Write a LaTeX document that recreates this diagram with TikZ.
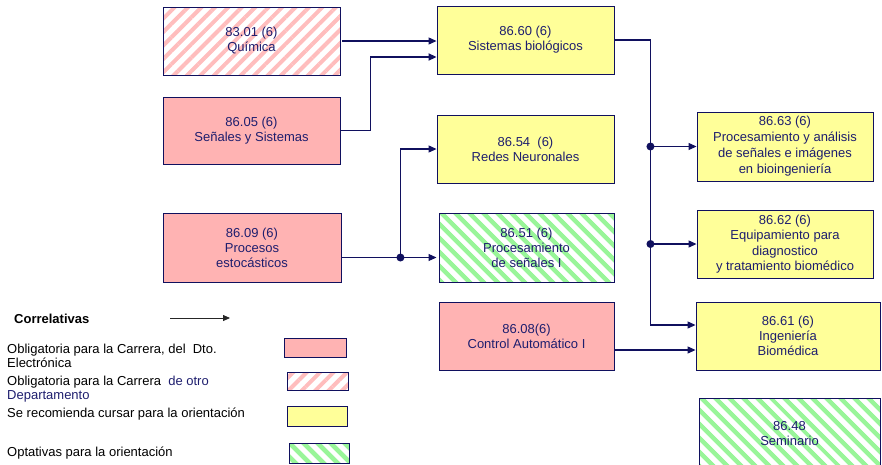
\documentclass[tikz,border=0pt]{standalone}
\usepackage{fontspec}
\setmainfont{Liberation Sans}
\usepackage{tikz}
\usetikzlibrary{arrows.meta, positioning, calc, patterns.meta}
\definecolor{navyline}{HTML}{10105E}
\definecolor{navytext}{HTML}{1E1E6E}
\definecolor{obligpink}{HTML}{FFB3B3}
\definecolor{hatchpink}{HTML}{FFBDBD}
\definecolor{orientyellow}{HTML}{FFFF99}
\definecolor{hatchgreen}{HTML}{99F599}

\tikzset{
  curso/.style={rectangle, draw=navyline, line width=0.9pt, inner sep=2pt,
                minimum width=177pt, minimum height=68pt, align=center,
                text=navytext, font=\fontsize{13}{15}\selectfont},
  oblig/.style={curso, fill=obligpink},
  otrodto/.style={curso, pattern={Lines[angle=45,distance=9.5pt,line width=4pt]}, pattern color=hatchpink},
  orient/.style={curso, fill=orientyellow},
  optativa/.style={curso, pattern={Lines[angle=-45,distance=10.5pt,line width=5pt]}, pattern color=hatchgreen},
  correl/.style={navyline, line width=1.1pt, -{Triangle[length=8pt,width=7pt]}},
  nudo/.style={circle, fill=navyline, inner sep=0pt, minimum size=8pt},
  leyenda/.style={anchor=west, align=left, inner sep=0pt, font=\fontsize{13}{14}\selectfont}
}

\begin{document}
\begin{tikzpicture}[x=1pt, y=-1pt]
  \useasboundingbox (0,0) rectangle (882,464);

  % ===== First column =====
  \node[otrodto] (quim) at (251.5, 41) {83.01 (6)\\Química};
  \node[oblig, minimum height=67pt] (senales) at (251.5, 130.5) {86.05 (6)\\Señales y Sistemas};
  \node[oblig, minimum width=178pt, minimum height=69pt] (estoc) at (252, 247.5) {86.09 (6)\\Procesos\\estocásticos};

  % ===== Second column =====
  \node[orient] (sisbio) at (525.5, 40) {86.60 (6)\\Sistemas biológicos};
  \node[orient] (redes) at (525.5, 149) {86.54~ (6)\\Redes Neuronales};
  \node[optativa, minimum width=175pt, minimum height=69pt] (procsen) at (526.5, 247.5) {86.51 (6)\\Procesamiento\\de señales I};
  \node[oblig, minimum width=175pt] (control) at (526.5, 336) {86.08(6)\\Control Automático I};

  % ===== Third column =====
  \node[orient, minimum width=176pt, minimum height=69pt, font=\fontsize{13}{16}\selectfont] (imag) at (785, 146.5)
        {86.63 (6)\\Procesamiento y análisis\\de señales e imágenes\\en bioingeniería};
  \node[orient, minimum width=176pt, font=\fontsize{13}{15.5}\selectfont] (equip) at (785, 244)
        {86.62 (6)\\Equipamiento para\\diagnostico\\y tratamiento biomédico};
  \node[orient, minimum width=184pt] (biomed) at (788, 336) {86.61 (6)\\Ingeniería\\Biomédica};
  \node[optativa, minimum width=181pt, minimum height=72pt] (semin) at (789.5, 434) {86.48\\Seminario};

  % ===== Correlatives =====
  \draw[correl] (quim.east) -- (quim.east -| sisbio.west);
  \draw[correl, line width=1.8pt] (senales.east) -- ++(30,0) |- ([yshift=-17pt]sisbio.west);

  \coordinate (jn1) at ($(estoc.east)+(59,10)$);
  \draw[correl] ([yshift=-10pt]estoc.east) -- ([yshift=-10pt]estoc.east -| procsen.west);
  \draw[correl] (jn1) |- (redes.west);
  \node[nudo] at (jn1) {};

  \coordinate (bus) at ($(sisbio.east)+(36,0)$);
  \draw[correl] (sisbio.east) -- (bus) |- ([yshift=11pt]biomed.west);
  \draw[correl] (bus |- imag.west) -- (imag.west);
  \draw[correl] (bus |- equip.west) -- (equip.west);
  \node[nudo] at (bus |- imag.west) {};
  \node[nudo] at (bus |- equip.west) {};

  \draw[correl] ([yshift=-14pt]control.east) -- ([yshift=-14pt]control.east -| biomed.west);

  % ===== Legend =====
  \node[leyenda, font=\fontsize{13}{14}\selectfont\bfseries] (corr) at (14, 319) {Correlativas};
  \coordinate (fl1) at (170, 318);
  \coordinate (fl2) at (230, 318);
  \draw[black!85, line width=0.8pt, -{Triangle[length=7pt,width=6pt]}] (fl1) -- (fl2);

  \node[leyenda] (ley1) at (7, 356) {Obligatoria para la Carrera, del~ Dto.\\Electrónica};
  \node[leyenda] (ley2) at (7, 389) {Obligatoria para la Carrera~ \textcolor{navytext}{de otro}\\\textcolor{navytext}{Departamento}};
  \node[leyenda] (ley3) at (7, 414) {Se recomienda cursar para la orientación};
  \node[leyenda] (ley4) at (7, 453) {Optativas para la orientación};

  \node[oblig, minimum width=62pt, minimum height=19pt, line width=0.7pt] (cuad1) at (315, 347.5) {};
  \node[otrodto, minimum width=61pt, minimum height=18pt, line width=0.7pt] (cuad2) at (317.5, 381) {};
  \node[orient, minimum width=60pt, minimum height=20pt, line width=0.7pt] (cuad3) at (317, 416) {};
  \node[optativa, minimum width=60pt, minimum height=20pt, line width=0.7pt] (cuad4) at (319, 453) {};
\end{tikzpicture}
\end{document}
